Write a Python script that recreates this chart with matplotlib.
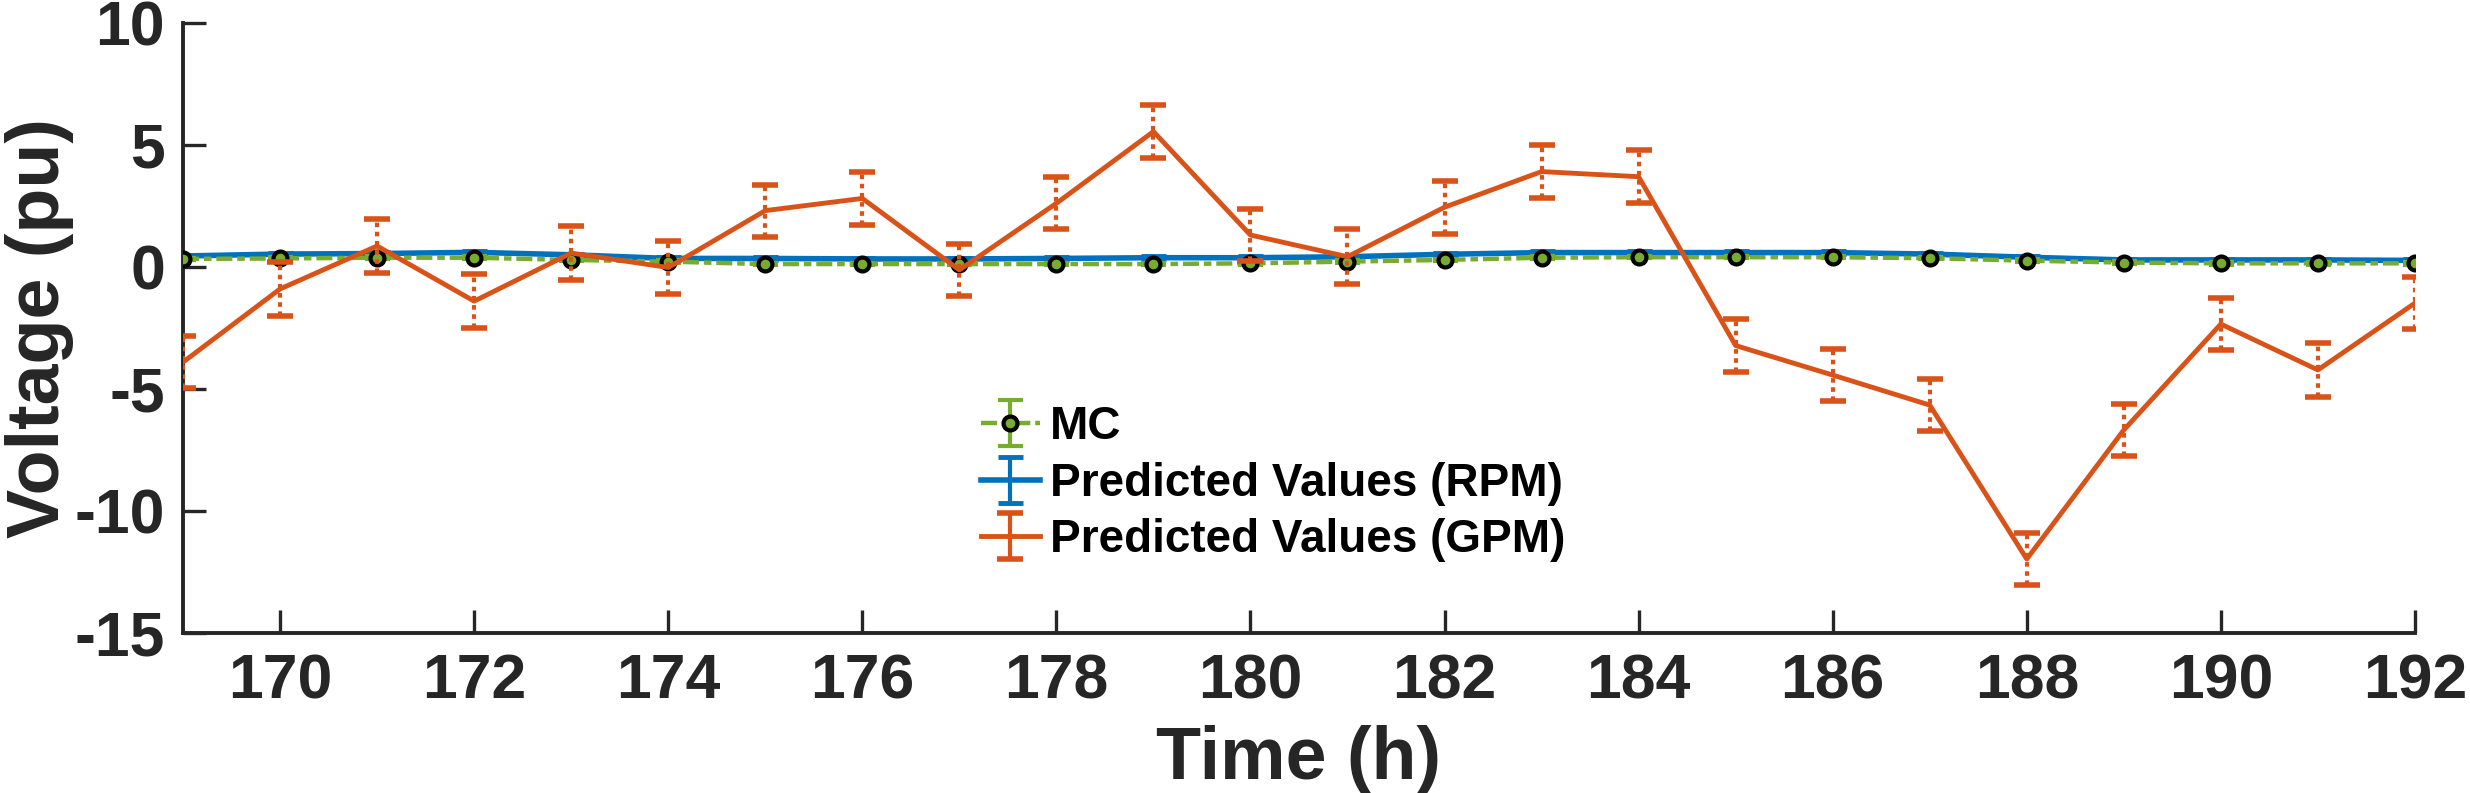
import matplotlib
matplotlib.use("Agg")
import matplotlib.pyplot as plt

plt.rcParams['font.family'] = ['Liberation Sans', 'DejaVu Sans']
plt.rcParams['font.weight'] = 'bold'
plt.rcParams['axes.unicode_minus'] = False

# ---- data ----
hours = [169, 170, 171, 172, 173, 174, 175, 176, 177, 178, 179, 180,
         181, 182, 183, 184, 185, 186, 187, 188, 189, 190, 191, 192]
gpm = [-3.90, -0.90, 0.86, -1.40, 0.57, -0.02, 2.31, 2.81, -0.12, 2.61, 5.55, 1.31,
       0.42, 2.45, 3.91, 3.70, -3.22, -4.43, -5.66, -11.97, -6.68, -2.34, -4.22, -1.48]
gpm_err = [1.08, 1.10, 1.10, 1.10, 1.10, 1.10, 1.07, 1.10, 1.05, 1.07, 1.10, 1.06,
           1.12, 1.08, 1.08, 1.08, 1.08, 1.08, 1.08, 1.05, 1.08, 1.08, 1.09, 1.08]
rpm = [0.45, 0.53, 0.55, 0.60, 0.50, 0.35, 0.35, 0.33, 0.33, 0.35, 0.38, 0.38,
       0.42, 0.52, 0.59, 0.59, 0.59, 0.59, 0.53, 0.40, 0.29, 0.29, 0.29, 0.27]
rpm_err = [0.05, 0.05, 0.05, 0.05, 0.05, 0.05, 0.05, 0.05, 0.05, 0.05, 0.05, 0.05,
           0.05, 0.05, 0.05, 0.05, 0.05, 0.05, 0.05, 0.05, 0.05, 0.05, 0.05, 0.05]
mc = [0.33, 0.35, 0.38, 0.38, 0.29, 0.22, 0.12, 0.12, 0.12, 0.12, 0.12, 0.15,
      0.22, 0.29, 0.38, 0.40, 0.40, 0.40, 0.36, 0.26, 0.18, 0.15, 0.15, 0.15]
mc_err = [0.05, 0.05, 0.05, 0.05, 0.05, 0.05, 0.05, 0.05, 0.05, 0.05, 0.05, 0.05,
          0.05, 0.05, 0.05, 0.05, 0.05, 0.05, 0.05, 0.05, 0.05, 0.05, 0.05, 0.05]
xticks = [170, 172, 174, 176, 178, 180, 182, 184, 186, 188, 190, 192]
yticks = [-15, -10, -5, 0, 5, 10]

C_MC = '#77AC30'
C_RPM = '#0072BD'
C_GPM = '#D95319'
TXT = '#262626'

fig = plt.figure(figsize=(24.7, 7.93), dpi=100)
ax = fig.add_axes([0.0741, 0.2018, 0.9777 - 0.0741, 0.971 - 0.2018])

e_rpm = ax.errorbar(hours, rpm, yerr=rpm_err, color=C_RPM, lw=4,
                    elinewidth=3, capsize=9, capthick=3.5, zorder=2,
                    label='Predicted Values (RPM)')
e_mc = ax.errorbar(hours, mc, yerr=mc_err, color=C_MC, lw=3.2,
                   linestyle=(0, (3.6, 1.1, 1.7, 1.1)),
                   marker='o', ms=10, mfc=C_MC, mec='black', mew=3,
                   elinewidth=3, capsize=9, capthick=3.5, zorder=3,
                   label='MC')
e_gpm = ax.errorbar(hours, gpm, yerr=gpm_err, color=C_GPM, lw=3.5,
                    elinewidth=3, capsize=9.5, capthick=4, zorder=4,
                    label='Predicted Values (GPM)')

ax.set_xlim(169, 192)
ax.set_ylim(-15, 10)
ax.set_xticks(xticks)
ax.set_yticks(yticks)

for s in ['top', 'right']:
    ax.spines[s].set_visible(False)
for s in ['left', 'bottom']:
    ax.spines[s].set_linewidth(2.8)
    ax.spines[s].set_color(TXT)

ax.tick_params(axis='both', direction='in', length=16.5, width=2.4,
               color=TXT, labelcolor=TXT, labelsize=45)
ax.tick_params(axis='x', pad=14)
ax.tick_params(axis='y', pad=13)
for lab in ax.get_xticklabels() + ax.get_yticklabels():
    lab.set_fontweight('bold')

ax.set_xlabel('Time (h)', fontsize=53, fontweight='bold', color=TXT)
ax.set_ylabel('Voltage (pu)', fontsize=53, fontweight='bold', color=TXT)
ax.xaxis.set_label_coords(0.5, -0.151)
ax.yaxis.set_label_coords(-0.049, 0.5)

leg = fig.legend([e_mc, e_rpm, e_gpm],
                 ['MC', 'Predicted Values (RPM)', 'Predicted Values (GPM)'],
                 loc='center left', bbox_to_anchor=(0.397, 0.390),
                 bbox_transform=fig.transFigure, frameon=False,
                 prop={'size': 33, 'weight': 'bold'},
                 handlelength=1.3, handletextpad=0.22, labelspacing=0.27,
                 borderpad=0, borderaxespad=0)
for t in leg.get_texts():
    t.set_color('black')

# dotted error bars (set after legend so legend bars stay solid)
for cont in (e_gpm, e_rpm, e_mc):
    for bl in cont[2]:
        bl.set_linestyle((0, (1.1, 1.1)))

fig.savefig('out.png', dpi=100)
